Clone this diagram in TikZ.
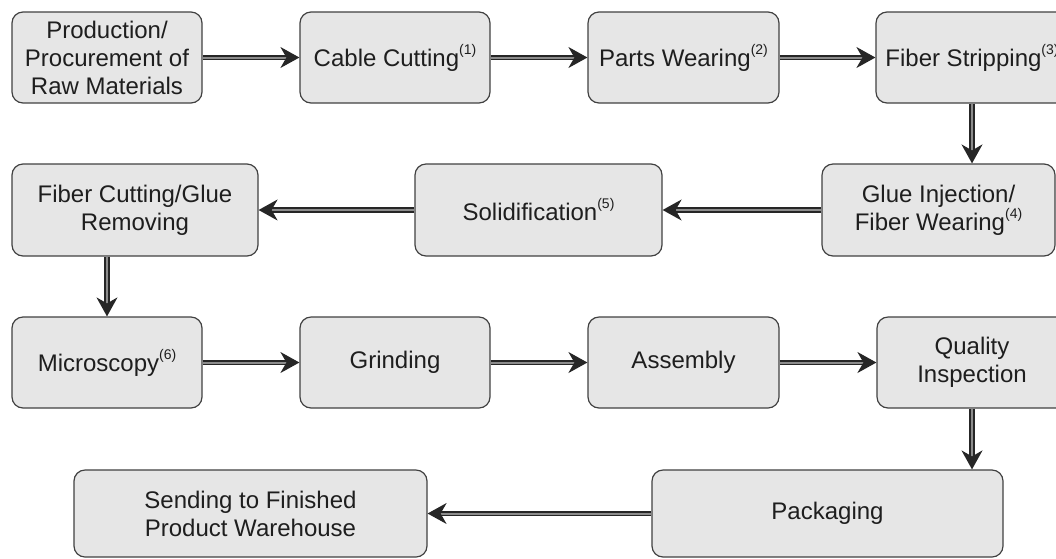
\documentclass[tikz,border=0pt]{standalone}
\usepackage{fontspec}
\setmainfont{Liberation Sans}
\usetikzlibrary{arrows.meta}
\definecolor{boxfill}{RGB}{230,230,230}
\definecolor{boxline}{RGB}{65,65,65}
\definecolor{txtcol}{RGB}{30,30,30}
\newcommand\supnum[1]{\raisebox{0.5em}{\fontsize{14}{14}\selectfont(#1)}}
\begin{document}
\begin{tikzpicture}[x=1pt,y=-1pt,
  box/.style={draw=boxline, line width=1.2pt, fill=boxfill, rounded corners=11pt,
    align=center, text=txtcol, font=\fontsize{24}{28}\selectfont, inner sep=0pt},
  flow/.style={draw=black!85, line width=1.6pt, double=black!45, double distance=2pt,
    -{Stealth[length=19pt,width=21pt,inset=6pt]}}]
\useasboundingbox (0,0) rectangle (1056,558);
\clip (0,0) rectangle (1056,558);
% row 1
\node[box, minimum width=190pt, minimum height=91pt] (raw) at (107,57.5) {Production/\\Procurement of\\Raw Materials};
\node[box, minimum width=190pt, minimum height=91pt] (cc) at (395,57.5) {Cable Cutting\supnum{1}};
\node[box, minimum width=191pt, minimum height=91pt] (pw) at (683.5,57.5) {Parts Wearing\supnum{2}};
\node[box, minimum width=192pt, minimum height=91pt] (fs) at (972,57.5) {Fiber Stripping\supnum{3}};
% row 2
\node[box, minimum width=246pt, minimum height=92pt] (fc) at (135,210) {Fiber Cutting/Glue\\Removing};
\node[box, minimum width=247pt, minimum height=92pt] (so) at (538.5,210) {Solidification\supnum{5}};
\node[box, minimum width=233pt, minimum height=92pt] (gi) at (938.5,210) {Glue Injection/\\Fiber Wearing\supnum{4}};
% row 3
\node[box, minimum width=190pt, minimum height=91pt] (mi) at (107,362.5) {Microscopy\supnum{6}};
\node[box, minimum width=190pt, minimum height=91pt] (gr) at (395,362.5) {Grinding};
\node[box, minimum width=191pt, minimum height=91pt] (as) at (683.5,362.5) {Assembly};
\node[box, minimum width=190pt, minimum height=91pt] (qi) at (972,362.5) {Quality\\Inspection};
% row 4
\node[box, minimum width=353pt, minimum height=87pt] (se) at (250.5,513.5) {Sending to Finished\\Product Warehouse};
\node[box, minimum width=351pt, minimum height=87pt] (pk) at (827.5,513.5) {Packaging};
% connectors
\draw[flow] (raw) -- (cc);
\draw[flow] (cc) -- (pw);
\draw[flow] (pw) -- (fs);
\draw[flow] (fs.south) -- (fs.south |- gi.north);
\draw[flow] (gi) -- (so);
\draw[flow] (so) -- (fc);
\draw[flow] (fc.south -| mi.north) -- (mi.north);
\draw[flow] (mi) -- (gr);
\draw[flow] (gr) -- (as);
\draw[flow] (as) -- (qi);
\draw[flow] (qi.south) -- (qi.south |- pk.north);
\draw[flow] (pk) -- (se);
\end{tikzpicture}
\end{document}
